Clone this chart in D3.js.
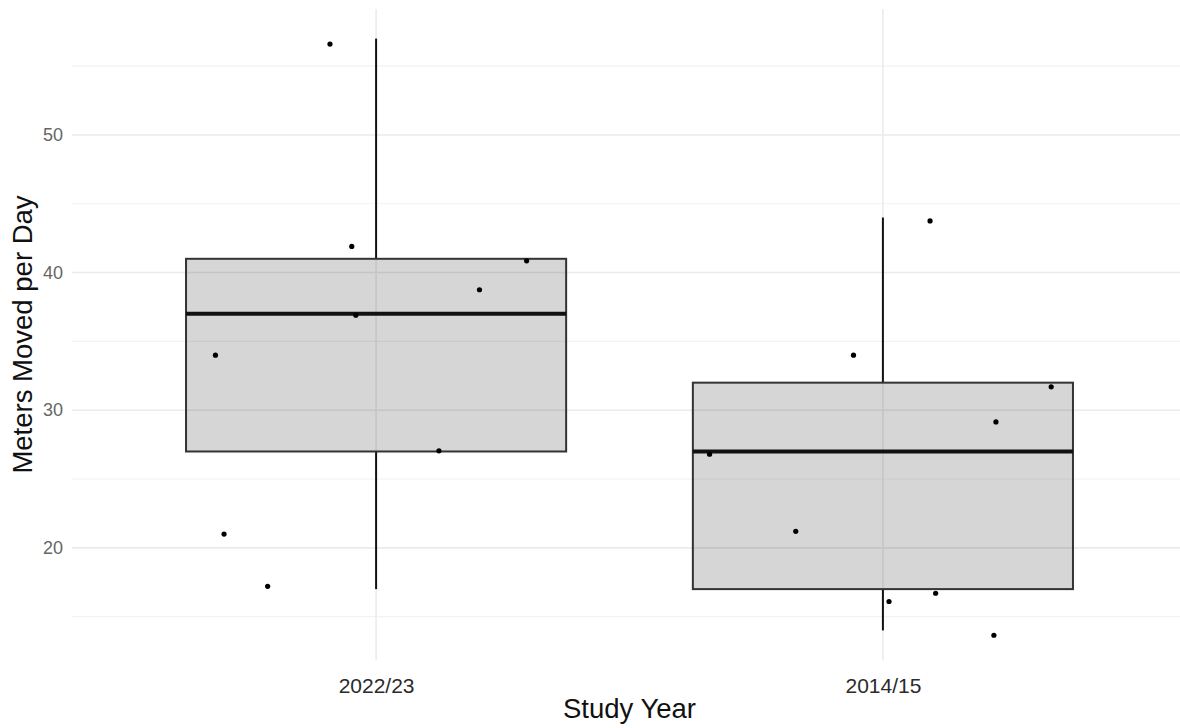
<!DOCTYPE html>
<html>
<head>
<meta charset="utf-8">
<script src="https://cdn.jsdelivr.net/npm/d3@7"></script>
<style>
  body { margin: 0; background: #fff; }
  svg { display: block; font-family: "Liberation Sans", Arial, sans-serif; }
</style>
</head>
<body>
<script>
const width = 1180,
      height = 728;

// panel edges (the right edge runs a little past the page, as in the picture)
const panelLeft = 72, panelRight = 1187, panelTop = 9, panelBottom = 660;

const years = ["2022/23", "2014/15"];

// box statistics per year: lower whisker, q1, median, q3, upper whisker
const whiskerLow  = [17, 14];
const q1          = [27, 17];
const median      = [37, 27];
const q3          = [41, 32];
const whiskerHigh = [57, 44];

// jittered points: horizontal offset in category units, value
const pts2022x = [-0.091, -0.048, -0.040, 0.204, 0.297, -0.317, 0.124, -0.300, -0.214];
const pts2022y = [56.6, 41.9, 36.9, 38.75, 40.85, 34.0, 27.05, 21.0, 17.2];
const pts2014x = [0.093, -0.058, 0.332, 0.223, -0.342, -0.172, 0.012, 0.104, 0.219];
const pts2014y = [43.75, 34.0, 31.7, 29.15, 26.8, 21.2, 16.1, 16.7, 13.65];

const majorTicks = [20, 30, 40, 50];
const minorTicks = [15, 25, 35, 45, 55];

function init() {
    let svg = d3.select("body")
        .append("svg")
        .attr("width", width)
        .attr("height", height);

    let x = d3.scalePoint().domain(years).range([panelLeft, panelRight]).padding(0.6);
    let step = x.step();

    let lo = 14, hi = 57, pad = (hi - lo) * 0.05;
    let y = d3.scaleLinear().domain([lo - pad, hi + pad]).range([panelBottom, panelTop]);

    // grid
    let grid = svg.append("g");
    grid.selectAll(".minor")
        .data(minorTicks)
        .enter().append("line")
        .attr("x1", panelLeft).attr("x2", panelRight)
        .attr("y1", d => y(d)).attr("y2", d => y(d))
        .attr("stroke", "#f2f2f2")
        .attr("stroke-width", 1.2);
    grid.selectAll(".major")
        .data(majorTicks)
        .enter().append("line")
        .attr("x1", panelLeft).attr("x2", panelRight)
        .attr("y1", d => y(d)).attr("y2", d => y(d))
        .attr("stroke", "#ebebeb")
        .attr("stroke-width", 1.6);
    grid.selectAll(".vmajor")
        .data(years)
        .enter().append("line")
        .attr("x1", d => x(d)).attr("x2", d => x(d))
        .attr("y1", panelTop).attr("y2", panelBottom)
        .attr("stroke", "#ebebeb")
        .attr("stroke-width", 1.6);

    let boxes = years.map((yr, i) => ({
        year: yr, lo: whiskerLow[i], q1: q1[i], med: median[i], q3: q3[i], hi: whiskerHigh[i]
    }));

    let g = svg.selectAll(".box")
        .data(boxes)
        .enter().append("g")
        .attr("class", "box");

    // whiskers
    g.append("line")
        .attr("x1", d => x(d.year)).attr("x2", d => x(d.year))
        .attr("y1", d => y(d.hi)).attr("y2", d => y(d.q3))
        .attr("stroke", "#111").attr("stroke-width", 2);
    g.append("line")
        .attr("x1", d => x(d.year)).attr("x2", d => x(d.year))
        .attr("y1", d => y(d.q1)).attr("y2", d => y(d.lo))
        .attr("stroke", "#111").attr("stroke-width", 2);

    // box
    g.append("rect")
        .attr("x", d => x(d.year) - step * 0.375)
        .attr("width", step * 0.75)
        .attr("y", d => y(d.q3))
        .attr("height", d => y(d.q1) - y(d.q3))
        .attr("fill", "#000")
        .attr("fill-opacity", 0.16)
        .attr("stroke", "#333")
        .attr("stroke-width", 2);

    g.append("line")
        .attr("x1", d => x(d.year) - step * 0.375)
        .attr("x2", d => x(d.year) + step * 0.375)
        .attr("y1", d => y(d.med)).attr("y2", d => y(d.med))
        .attr("stroke", "#111").attr("stroke-width", 4);

    // points
    let points = [];
    pts2022x.forEach((o, i) => points.push({year: years[0], off: o, v: pts2022y[i]}));
    pts2014x.forEach((o, i) => points.push({year: years[1], off: o, v: pts2014y[i]}));

    svg.selectAll(".dot")
        .data(points)
        .enter().append("circle")
        .attr("class", "dot")
        .attr("cx", d => x(d.year) + d.off * step)
        .attr("cy", d => y(d.v))
        .attr("r", 2.6)
        .attr("fill", "#000");

    // axes (no lines, only labels)
    let yAxis = d3.axisLeft(y).tickValues(majorTicks).tickSize(0).tickPadding(0);
    let ya = svg.append("g")
        .attr("transform", "translate(" + 63 + ",0)")
        .call(yAxis);
    ya.select(".domain").remove();
    ya.selectAll("text")
        .attr("fill", "#666")
        .style("font-size", "18px")
        .style("font-family", "Liberation Sans, Arial, sans-serif");

    let xAxis = d3.axisBottom(x).tickSize(0).tickPadding(0);
    let xa = svg.append("g")
        .attr("transform", "translate(0," + 678 + ")")
        .call(xAxis);
    xa.select(".domain").remove();
    xa.selectAll("text")
        .attr("fill", "#2b2b2b")
        .style("font-size", "21px")
        .style("font-family", "Liberation Sans, Arial, sans-serif");

    svg.append("text")
        .attr("x", (panelLeft + panelRight) / 2)
        .attr("y", 718)
        .attr("text-anchor", "middle")
        .style("font-size", "27.5px")
        .attr("fill", "#111")
        .text("Study Year");

    svg.append("text")
        .attr("text-anchor", "middle")
        .attr("transform", "translate(32," + ((panelTop + panelBottom) / 2) + ")rotate(-90)")
        .style("font-size", "27.5px")
        .attr("fill", "#111")
        .text("Meters Moved per Day");
}

window.onload = init;
</script>
</body>
</html>
